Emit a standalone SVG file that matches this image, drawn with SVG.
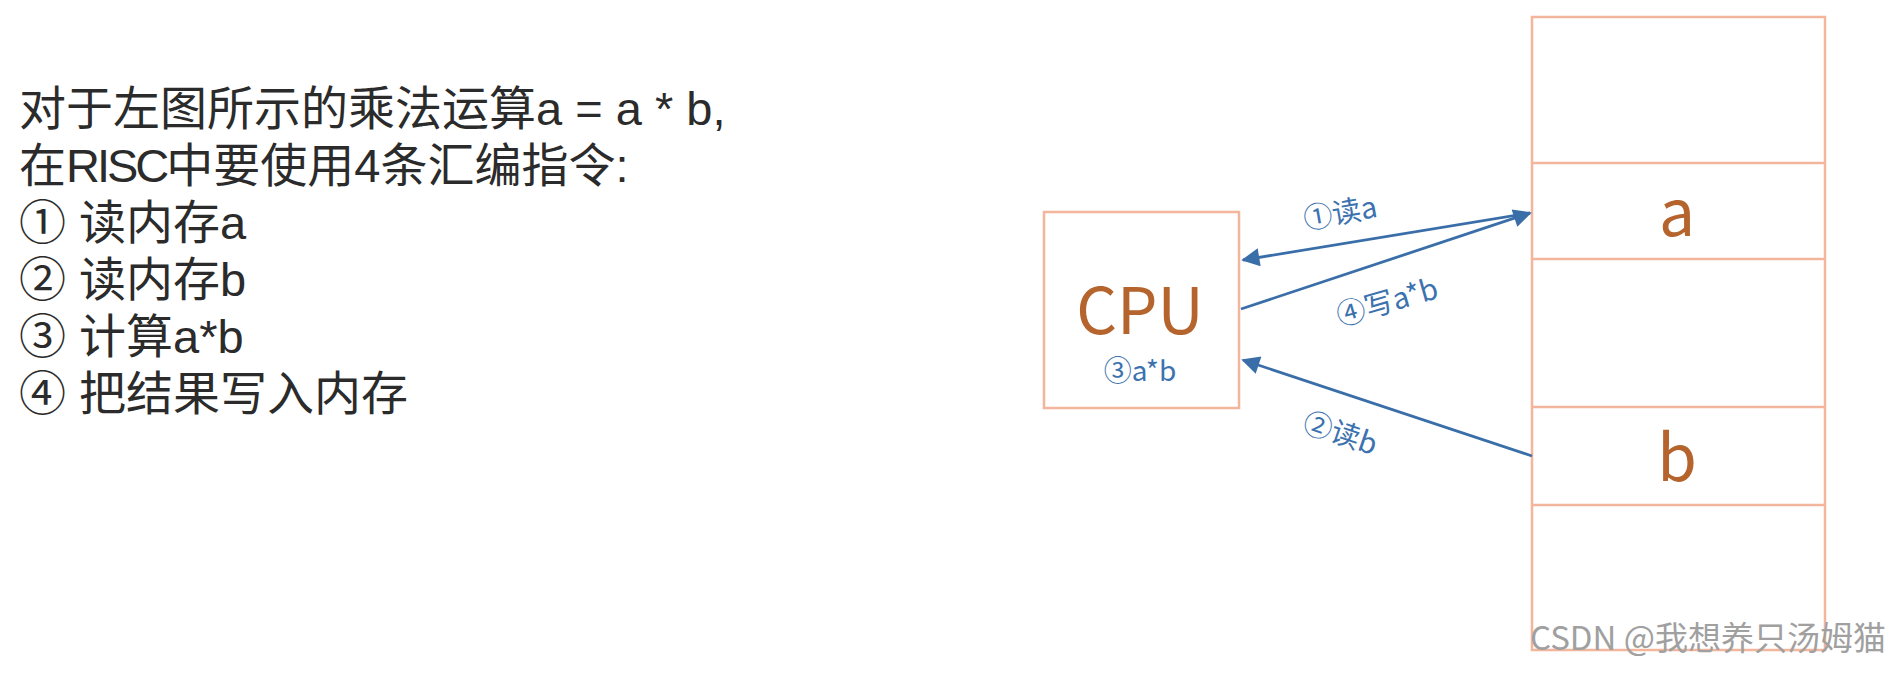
<svg xmlns="http://www.w3.org/2000/svg" width="1900" height="692" viewBox="0 0 1900 692">
<style>
.txt{font-family:"Liberation Sans","Noto Sans CJK SC",sans-serif;font-size:47px;fill:#2b2b2b}
.risc{letter-spacing:-3px}
.box{fill:none;stroke:#F3B59C;stroke-width:2.5}
.big{font-family:"Noto Sans CJK SC","Liberation Sans",sans-serif;font-size:64px;fill:#B4642C;text-anchor:middle}
.lbl{font-family:"Noto Sans CJK SC","Liberation Sans",sans-serif;font-size:29px;fill:#3C72AE;text-anchor:middle}
.arr{fill:none;stroke:#3A6EA8;stroke-width:2.8}
.wm{font-family:"Noto Sans CJK SC","Liberation Sans",sans-serif;font-size:33px;fill:#a0a0a0}
</style>
<defs>
<marker id="ah" viewBox="0 0 10 10" refX="9" refY="5" markerWidth="7" markerHeight="6.5" orient="auto" markerUnits="strokeWidth">
<path d="M0,0 L10,5 L0,10 z" fill="#3A6EA8"/>
</marker>
</defs>
<rect width="1900" height="692" fill="#fff"/>
<g id="description">
<text class="txt" x="19" y="125">对于左图所示的乘法运算a = a * b,</text>
<text class="txt" x="19" y="182">在<tspan class="risc">RISC</tspan>中要使用4条汇编指令:</text>
<text class="txt" x="19" y="239">① 读内存a</text>
<text class="txt" x="19" y="296">② 读内存b</text>
<text class="txt" x="19" y="353">③ 计算a*b</text>
<text class="txt" x="19" y="410">④ 把结果写入内存</text>
</g>
<g id="cpu">
<rect class="box" x="1044" y="212" width="195" height="196"/>
<text class="big" x="1140" y="334">CPU</text>
<text class="lbl" x="1140" y="381" style="font-size:28px">③a*b</text>
</g>
<g id="memory">
<rect class="box" x="1532" y="17" width="293" height="633"/>
<line class="box" x1="1532" y1="163" x2="1825" y2="163"/>
<line class="box" x1="1532" y1="259" x2="1825" y2="259"/>
<line class="box" x1="1532" y1="407" x2="1825" y2="407"/>
<line class="box" x1="1532" y1="505" x2="1825" y2="505"/>
<text class="big" x="1677" y="236">a</text>
<text class="big" x="1677" y="481">b</text>
</g>
<g id="connectors">
<line class="arr" x1="1530" y1="213" x2="1243" y2="260" marker-end="url(#ah)"/>
<line class="arr" x1="1241" y1="309" x2="1530" y2="213" marker-end="url(#ah)"/>
<line class="arr" x1="1532" y1="456" x2="1243" y2="360" marker-end="url(#ah)"/>
<text class="lbl" transform="translate(1342,223) rotate(-10)">①读a</text>
<text class="lbl" transform="translate(1390,312) rotate(-16)">④写a*b</text>
<text class="lbl" transform="translate(1337,443) rotate(19)">②读b</text>
</g>
<text class="wm" x="1530" y="650">CSDN @我想养只汤姆猫</text>
</svg>
